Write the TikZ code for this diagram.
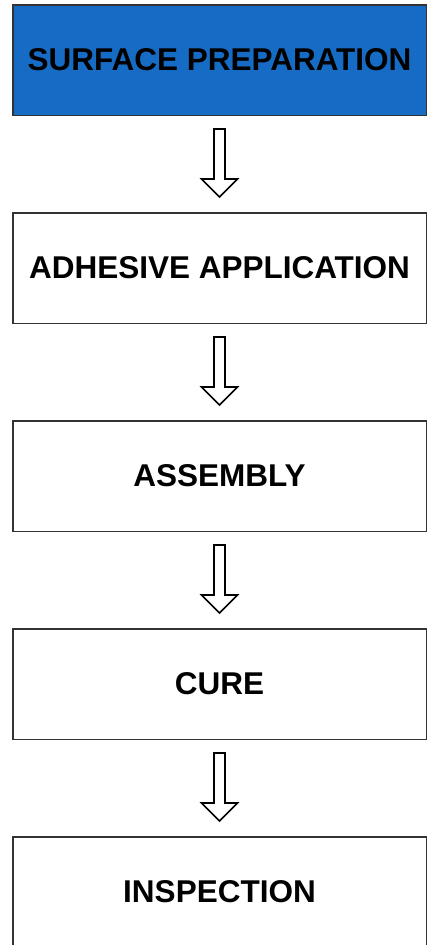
\documentclass[tikz,border=0pt]{standalone}
\usepackage{fontspec}
\setmainfont{Liberation Sans}
\usetikzlibrary{positioning,calc}

\definecolor{prepblue}{RGB}{22,108,196}
\tikzset{
  stagebox/.style={draw=black!80, line width=1.5pt, minimum width=413.5pt,
    minimum height=110.5pt, inner sep=0pt,
    font=\fontsize{31.5}{31.5}\selectfont\bfseries},
  hollowarrow/.style={draw=black, line width=1.6pt, fill=white, line join=miter}
}

% hollow block arrow from one stage to the next
\newcommand{\stagearrow}[2]{%
  \path ($(#1.south)+(0,-13pt)$) coordinate (#1top)
        ($(#2.north)+(0,15pt)$)  coordinate (#1tip);
  \draw[hollowarrow] ($(#1top)+(-5.5pt,0)$) -- ($(#1top)+(5.5pt,0)$)
    -- ($(#1tip)+(5.5pt,18pt)$) -- ($(#1tip)+(18pt,18pt)$) -- (#1tip)
    -- ($(#1tip)+(-18pt,18pt)$) -- ($(#1tip)+(-5.5pt,18pt)$) -- cycle;
}

\begin{document}
\begin{tikzpicture}[node distance=96pt]
  \useasboundingbox (0,0) rectangle (429pt,-945pt);

  \node[stagebox, fill=prepblue] (prep) at (219.5pt,-60pt) {SURFACE PREPARATION};
  \node[stagebox, below=of prep]   (apply)   {ADHESIVE APPLICATION};
  \node[stagebox, below=of apply]  (assem)   {ASSEMBLY};
  \node[stagebox, below=of assem]  (cure)    {CURE};
  \node[stagebox, below=of cure]   (inspect) {INSPECTION};

  \stagearrow{prep}{apply}
  \stagearrow{apply}{assem}
  \stagearrow{assem}{cure}
  \stagearrow{cure}{inspect}
\end{tikzpicture}
\end{document}
